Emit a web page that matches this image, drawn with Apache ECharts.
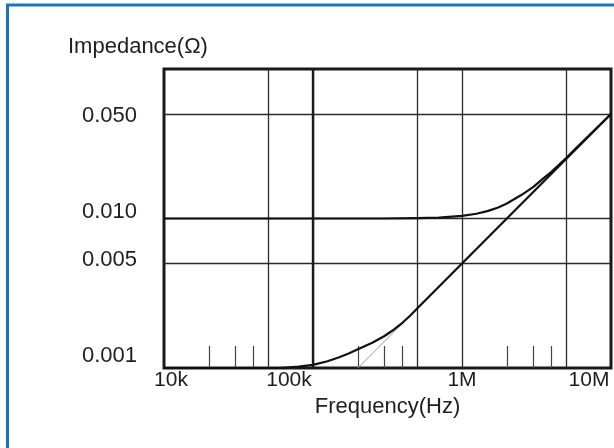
<!DOCTYPE html>
<html>
<head>
<meta charset="utf-8">
<script src="https://cdn.jsdelivr.net/npm/echarts@6/dist/echarts.min.js"></script>
<style>
html,body{margin:0;padding:0;background:#fff;}
#c{width:614px;height:448px;}
</style>
</head>
<body>
<div id="c"></div>
<script>
// ---- data ----
const flatCurveFreq = [1e4, 3e5, 5e5, 7e5, 1e6, 1.25e6, 1.5e6, 1.75e6, 2e6, 2.5e6, 3e6, 3.5e6, 4e6, 5e6, 6e6, 7e6, 8.5e6, 1e7];
const flatCurveImp  = [0.01, 0.01, 0.01005, 0.01014, 0.0104, 0.01076, 0.01124, 0.01186, 0.0126, 0.01435, 0.0162, 0.0185, 0.0206, 0.0254, 0.0304, 0.0353, 0.0427, 0.05];

const riseCurveFreq = [1e4, 4e4, 6e4, 8e4, 1e5, 1.25e5, 1.5e5, 1.75e5, 2e5, 2.5e5, 3e5, 3.5e5, 4e5, 4.5e5, 5e5, 1e6, 1e7];
const riseCurveImp  = [0.001, 0.001, 0.001, 0.00102, 0.00105, 0.00111, 0.001179, 0.001254, 0.001334, 0.001474, 0.00163, 0.00181, 0.002014, 0.002245, 0.0025, 0.005, 0.05];

const asymFreq = [2e5, 4.5e5];
const asymImp  = [0.001, 0.00225];

const xLabelValues = [1e4, 1e5, 1e6, 1e7];
const xLabelTexts  = ['10k', '100k', '1M', '10M'];
const xGridValues  = [5e4, 1e5, 5e5, 1e6, 5e6];
const xMinorValues = [2e4, 3e4, 4e4, 2e5, 3e5, 4e5, 2e6, 3e6, 4e6];

const yLabelValues = [0.001, 0.005, 0.01, 0.05];
const yLabelTexts  = ['0.001', '0.005', '0.010', '0.050'];
const yGridValues  = [0.005, 0.01, 0.05];

// ---- chart ----
const pair = (xs, ys) => xs.map((x, i) => [x, ys[i]]);
const near = (a, b) => Math.abs(Math.log10(a) - Math.log10(b)) < 1e-6;

const xLabelStyle = ['xa', 'xb', 'xc', 'xd'];
const yLabelStyle = ['ya', 'yb', 'yc', 'yd'];

const chart = echarts.init(document.getElementById('c'), null, {renderer: 'canvas'});
const font = '"Liberation Sans", Arial, sans-serif';
const txt = '#1e1e1e';

chart.setOption({
  animation: false,
  backgroundColor: '#fff',
  textStyle: {fontFamily: font},
  title: {
    text: 'Impedance(\u03A9)',
    left: 63, top: 31,
    textStyle: {fontFamily: font, fontSize: 22, fontWeight: 'normal', color: txt}
  },
  graphic: [{
    type: 'rect',
    shape: {x: 7.5, y: 5, width: 640, height: 480},
    style: {fill: 'none', stroke: '#1b75bb', lineWidth: 3},
    silent: true
  }],
  grid: {
    left: 164, right: 3, top: 69, bottom: 80,
    show: true, borderColor: '#1a1a1a', borderWidth: 3, backgroundColor: 'transparent'
  },
  xAxis: [{
    type: 'log', logBase: 10, min: 1e4, max: 1e7,
    name: 'Frequency(Hz)', nameLocation: 'middle', nameGap: 17,
    nameTextStyle: {fontFamily: font, fontSize: 22, color: txt, verticalAlign: 'top'},
    axisLine: {show: false},
    axisTick: {show: false, customValues: xGridValues},
    splitLine: {show: true, lineStyle: {color: '#2a2a2a', width: 1.3}},
    axisLabel: {
      customValues: xLabelValues,
      margin: 2,
      fontFamily: font, fontSize: 21, color: txt,
      formatter: function (v) {
        for (let i = 0; i < xLabelValues.length; i++) {
          if (near(v, xLabelValues[i])) return '{' + xLabelStyle[i] + '|' + xLabelTexts[i] + '}';
        }
        return '';
      },
      rich: {
        xa: {fontSize: 21, fontFamily: font, color: txt, padding: [0, 0, 0, 14]},
        xb: {fontSize: 21, fontFamily: font, color: txt, padding: [0, 48, 0, 0]},
        xc: {fontSize: 21, fontFamily: font, color: txt, padding: [0, 0, 0, 0]},
        xd: {fontSize: 21, fontFamily: font, color: txt, padding: [0, 44, 0, 0]}
      }
    }
  }, {
    type: 'log', logBase: 10, min: 1e4, max: 1e7, position: 'bottom',
    axisLine: {show: false},
    axisTick: {show: true, inside: true, length: 22, customValues: xMinorValues,
               lineStyle: {color: '#444', width: 1.2}},
    axisLabel: {show: false},
    splitLine: {show: false}
  }],
  yAxis: {
    type: 'log', logBase: 10, min: 0.001, max: 0.1,
    axisLine: {show: false},
    axisTick: {show: false, customValues: yGridValues},
    splitLine: {show: true, lineStyle: {color: '#2a2a2a', width: 1.3}},
    axisLabel: {
      customValues: yLabelValues,
      margin: 27,
      fontFamily: font, fontSize: 22, color: txt,
      formatter: function (v) {
        for (let i = 0; i < yLabelValues.length; i++) {
          if (near(v, yLabelValues[i])) return '{' + yLabelStyle[i] + '|' + yLabelTexts[i] + '}';
        }
        return '';
      },
      rich: {
        ya: {fontSize: 22, fontFamily: font, color: txt, padding: [0, 0, 24, 0]},
        yb: {fontSize: 22, fontFamily: font, color: txt, padding: [0, 0, 7, 0]},
        yc: {fontSize: 22, fontFamily: font, color: txt, padding: [0, 0, 14, 0]},
        yd: {fontSize: 22, fontFamily: font, color: txt, padding: [4, 0, 0, 0]}
      }
    }
  },
  series: [{
    type: 'line', name: 'asymptote', data: pair(asymFreq, asymImp),
    showSymbol: false, lineStyle: {color: '#9a9a9a', width: 1}, z: 3
  }, {
    type: 'line', name: 'flat', data: pair(flatCurveFreq, flatCurveImp),
    smooth: false, showSymbol: false,
    lineStyle: {color: '#111', width: 2.2, join: 'round'}, z: 4,
    markLine: {
      silent: true, symbol: 'none', label: {show: false},
      lineStyle: {color: '#1a1a1a', width: 2.4, type: 'solid'},
      data: [{xAxis: 1e5}]
    }
  }, {
    type: 'line', name: 'rise', data: pair(riseCurveFreq, riseCurveImp),
    smooth: false, showSymbol: false,
    lineStyle: {color: '#111', width: 2.2, join: 'round'}, z: 4
  }]
});
</script>
</body>
</html>
